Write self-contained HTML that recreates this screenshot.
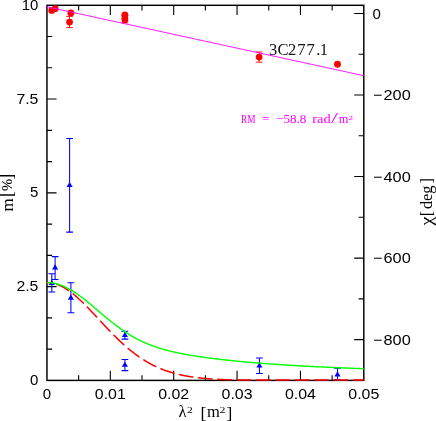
<!DOCTYPE html>
<html><head><meta charset="utf-8"><title>3C277.1</title>
<style>html,body{margin:0;padding:0;background:#fff}body{width:436px;height:421px;overflow:hidden}</style>
</head><body>
<svg width="436" height="421" viewBox="0 0 436 421" style="display:block;will-change:transform">
<rect width="436" height="421" fill="#fff"/>
<path d="M78.64 380.4v-5.2M78.64 5.3v5.2M110.32 380.4v-9.6M110.32 5.3v9.6M142.00 380.4v-5.2M142.00 5.3v5.2M173.69 380.4v-9.6M173.69 5.3v9.6M205.38 380.4v-5.2M205.38 5.3v5.2M237.06 380.4v-9.6M237.06 5.3v9.6M268.75 380.4v-5.2M268.75 5.3v5.2M300.43 380.4v-9.6M300.43 5.3v9.6M332.12 380.4v-5.2M332.12 5.3v5.2M46.95 349.14h5.2M46.95 317.88h5.2M46.95 286.62h9.6M46.95 255.37h5.2M46.95 224.11h5.2M46.95 192.85h9.6M46.95 161.59h5.2M46.95 130.33h5.2M46.95 99.07h9.6M46.95 67.82h5.2M46.95 36.56h5.2M363.8 13.45h-9.6M363.8 54.23h-5.2M363.8 95.00h-9.6M363.8 135.77h-5.2M363.8 176.54h-9.6M363.8 217.31h-5.2M363.8 258.08h-9.6M363.8 298.86h-5.2M363.8 339.63h-9.6" stroke="#000" stroke-width="1.1" fill="none"/>
<rect x="46.95" y="5.3" width="316.85" height="375.09999999999997" fill="none" stroke="#000" stroke-width="1.45"/>
<path d="M69.6 138.4V232.1M66.19999999999999 138.4h6.8M66.19999999999999 232.1h6.8" stroke="#0000ff" stroke-width="1.05" fill="none"/>
<path d="M69.6 181.9L72.69999999999999 187.0H66.5Z" fill="#0000ff"/>
<path d="M55.1 256.6V279.4M51.7 256.6h6.8M51.7 279.4h6.8" stroke="#0000ff" stroke-width="1.05" fill="none"/>
<path d="M55.1 264.29999999999995L58.2 269.4H52.0Z" fill="#0000ff"/>
<path d="M51.8 273.75V291.9M48.4 273.75h6.8M48.4 291.9h6.8" stroke="#0000ff" stroke-width="1.05" fill="none"/>
<path d="M51.8 279.9L54.9 285.0H48.699999999999996Z" fill="#0000ff"/>
<path d="M70.9 282.7V312.8M67.5 282.7h6.8M67.5 312.8h6.8" stroke="#0000ff" stroke-width="1.05" fill="none"/>
<path d="M70.9 294.59999999999997L74.0 299.7H67.80000000000001Z" fill="#0000ff"/>
<path d="M124.9 331.3V339.1M121.5 331.3h6.8M121.5 339.1h6.8" stroke="#0000ff" stroke-width="1.05" fill="none"/>
<path d="M124.9 332.0L128.0 337.1H121.80000000000001Z" fill="#0000ff"/>
<path d="M124.9 359.5V370.6M121.5 359.5h6.8M121.5 370.6h6.8" stroke="#0000ff" stroke-width="1.05" fill="none"/>
<path d="M124.9 361.7L128.0 366.8H121.80000000000001Z" fill="#0000ff"/>
<path d="M259.4 357.9V373.4M255.99999999999997 357.9h6.8M255.99999999999997 373.4h6.8" stroke="#0000ff" stroke-width="1.05" fill="none"/>
<path d="M259.4 362.5L262.5 367.6H256.29999999999995Z" fill="#0000ff"/>
<path d="M337.5 368.3V379.7M334.1 368.3h6.8M334.1 379.7h6.8" stroke="#0000ff" stroke-width="1.05" fill="none"/>
<path d="M337.5 371.29999999999995L340.6 376.4H334.4Z" fill="#0000ff"/>
<path d="M46.95 282.57 L47.74 282.59 L48.54 282.62 L49.33 282.68 L50.13 282.76 L50.92 282.86 L51.71 282.98 L52.51 283.13 L53.30 283.30 L54.10 283.49 L54.89 283.70 L55.69 283.93 L56.48 284.19 L57.27 284.46 L58.07 284.76 L58.86 285.08 L59.66 285.41 L60.45 285.77 L61.24 286.15 L62.04 286.55 L62.83 286.96 L63.63 287.40 L64.42 287.85 L65.21 288.32 L66.01 288.81 L66.80 289.31 L67.60 289.84 L68.39 290.38 L69.19 290.93 L69.98 291.50 L70.77 292.09 L71.57 292.69 L72.36 293.31 L73.16 293.94 L73.95 294.59 L74.74 295.25 L75.54 295.92 L76.33 296.60 L77.13 297.30 L77.92 298.01 L78.71 298.72 L79.51 299.45 L80.30 300.19 L81.10 300.94 L81.89 301.70 L82.68 302.47 L83.48 303.25 L84.27 304.03 L85.07 304.82 L85.86 305.62 L86.66 306.43 L87.45 307.24 L88.24 308.06 L89.04 308.89 L89.83 309.72 L90.63 310.55 L91.42 311.39 L92.21 312.23 L93.01 313.07 L93.80 313.92 L94.60 314.77 L95.39 315.62 L96.18 316.48 L96.98 317.33 L97.77 318.19 L98.57 319.04 L99.36 319.90 L100.16 320.76 L100.95 321.61 L101.74 322.47 L102.54 323.32 L103.33 324.17 L104.13 325.02 L104.92 325.87 L105.71 326.72 L106.51 327.56 L107.30 328.40 L108.10 329.23 L108.89 330.06 L109.68 330.89 L110.48 331.71 L111.27 332.53 L112.07 333.35 L112.86 334.16 L113.66 334.96 L114.45 335.76 L115.24 336.55 L116.04 337.33 L116.83 338.11 L117.63 338.89 L118.42 339.65 L119.21 340.41 L120.01 341.17 L120.80 341.91 L121.60 342.65 L122.39 343.38 L123.18 344.11 L123.98 344.82 L124.77 345.53 L125.57 346.23 L126.36 346.92 L127.16 347.61 L127.95 348.28 L128.74 348.95 L129.54 349.61 L130.33 350.26 L131.13 350.90 L131.92 351.54 L132.71 352.16 L133.51 352.78 L134.30 353.39 L135.10 353.99 L135.89 354.58 L136.68 355.16 L137.48 355.73 L138.27 356.29 L139.07 356.85 L139.86 357.39 L140.66 357.93 L141.45 358.46 L142.24 358.98 L143.04 359.49 L143.83 359.99 L144.63 360.49 L145.42 360.97 L146.21 361.45 L147.01 361.92 L147.80 362.38 L148.60 362.83 L149.39 363.27 L150.18 363.70 L150.98 364.13 L151.77 364.55 L152.57 364.96 L153.36 365.36 L154.15 365.75 L154.95 366.14 L155.74 366.51 L156.54 366.88 L157.33 367.25 L158.13 367.60 L158.92 367.95 L159.71 368.29 L160.51 368.62 L161.30 368.94 L162.10 369.26 L162.89 369.57 L163.68 369.88 L164.48 370.17 L165.27 370.46 L166.07 370.75 L166.86 371.02 L167.65 371.29 L168.45 371.56 L169.24 371.81 L170.04 372.07 L170.83 372.31 L171.63 372.55 L172.42 372.78 L173.21 373.01 L174.01 373.23 L174.80 373.45 L175.60 373.66 L176.39 373.87 L177.18 374.07 L177.98 374.26 L178.77 374.45 L179.57 374.63 L180.36 374.81 L181.15 374.99 L181.95 375.16 L182.74 375.33 L183.54 375.49 L184.33 375.64 L185.13 375.80 L185.92 375.94 L186.71 376.09 L187.51 376.23 L188.30 376.37 L189.10 376.50 L189.89 376.63 L190.68 376.75 L191.48 376.87 L192.27 376.99 L193.07 377.10 L193.86 377.21 L194.65 377.32 L195.45 377.43 L196.24 377.53 L197.04 377.63 L197.83 377.72 L198.63 377.81 L199.42 377.90 L200.21 377.99 L201.01 378.07 L201.80 378.16 L202.60 378.23 L203.39 378.31 L204.18 378.38 L204.98 378.46 L205.77 378.53 L206.57 378.59 L207.36 378.66 L208.15 378.72 L208.95 378.78 L209.74 378.84 L210.54 378.90 L211.33 378.95 L212.12 379.01 L212.92 379.06 L213.71 379.11 L214.51 379.15 L215.30 379.20 L216.10 379.25 L216.89 379.29 L217.68 379.33 L218.48 379.37 L219.27 379.41 L220.07 379.45 L220.86 379.48 L221.65 379.52 L222.45 379.55 L223.24 379.59 L224.04 379.62 L224.83 379.65 L225.62 379.68 L226.42 379.71 L227.21 379.73 L228.01 379.76 L228.80 379.78 L229.60 379.81 L230.39 379.83 L231.18 379.85 L231.98 379.88 L232.77 379.90 L233.57 379.92 L234.36 379.94 L235.15 379.96 L235.95 379.97 L236.74 379.99 L237.54 380.00 L238.33 380.00 L239.12 380.00 L239.92 380.00 L240.71 380.00 L241.51 380.00 L242.30 380.00 L243.10 380.00 L243.89 380.00 L244.68 380.00 L245.48 380.00 L246.27 380.00 L247.07 380.00 L247.86 380.00 L248.65 380.00 L249.45 380.00 L250.24 380.00 L251.04 380.00 L251.83 380.00 L252.62 380.00 L253.42 380.00 L254.21 380.00 L255.01 380.00 L255.80 380.00 L256.60 380.00 L257.39 380.00 L258.18 380.00 L258.98 380.00 L259.77 380.00 L260.57 380.00 L261.36 380.00 L262.15 380.00 L262.95 380.00 L263.74 380.00 L264.54 380.00 L265.33 380.00 L266.12 380.00 L266.92 380.00 L267.71 380.00 L268.51 380.00 L269.30 380.00 L270.09 380.00 L270.89 380.00 L271.68 380.00 L272.48 380.00 L273.27 380.00 L274.07 380.00 L274.86 380.00 L275.65 380.00 L276.45 380.00 L277.24 380.00 L278.04 380.00 L278.83 380.00 L279.62 380.00 L280.42 380.00 L281.21 380.00 L282.01 380.00 L282.80 380.00 L283.59 380.00 L284.39 380.00 L285.18 380.00 L285.98 380.00 L286.77 380.00 L287.57 380.00 L288.36 380.00 L289.15 380.00 L289.95 380.00 L290.74 380.00 L291.54 380.00 L292.33 380.00 L293.12 380.00 L293.92 380.00 L294.71 380.00 L295.51 380.00 L296.30 380.00 L297.09 380.00 L297.89 380.00 L298.68 380.00 L299.48 380.00 L300.27 380.00 L301.07 380.00 L301.86 380.00 L302.65 380.00 L303.45 380.00 L304.24 380.00 L305.04 380.00 L305.83 380.00 L306.62 380.00 L307.42 380.00 L308.21 380.00 L309.01 380.00 L309.80 380.00 L310.59 380.00 L311.39 380.00 L312.18 380.00 L312.98 380.00 L313.77 380.00 L314.57 380.00 L315.36 380.00 L316.15 380.00 L316.95 380.00 L317.74 380.00 L318.54 380.00 L319.33 380.00 L320.12 380.00 L320.92 380.00 L321.71 380.00 L322.51 380.00 L323.30 380.00 L324.09 380.00 L324.89 380.00 L325.68 380.00 L326.48 380.00 L327.27 380.00 L328.07 380.00 L328.86 380.00 L329.65 380.00 L330.45 380.00 L331.24 380.00 L332.04 380.00 L332.83 380.00 L333.62 380.00 L334.42 380.00 L335.21 380.00 L336.01 380.00 L336.80 380.00 L337.59 380.00 L338.39 380.00 L339.18 380.00 L339.98 380.00 L340.77 380.00 L341.56 380.00 L342.36 380.00 L343.15 380.00 L343.95 380.00 L344.74 380.00 L345.54 380.00 L346.33 380.00 L347.12 380.00 L347.92 380.00 L348.71 380.00 L349.51 380.00 L350.30 380.00 L351.09 380.00 L351.89 380.00 L352.68 380.00 L353.48 380.00 L354.27 380.00 L355.06 380.00 L355.86 380.00 L356.65 380.00 L357.45 380.00 L358.24 380.00 L359.04 380.00 L359.83 380.00 L360.62 380.00 L361.42 380.00 L362.21 380.00 L363.01 380.00 L363.80 380.00" stroke="#ff0000" stroke-width="1.5" fill="none" stroke-dasharray="13.65 5.72" stroke-dashoffset="9.6" stroke-linecap="round" stroke-linejoin="round"/>
<path d="M46.95 282.57 L47.74 282.58 L48.54 282.61 L49.33 282.65 L50.13 282.71 L50.92 282.79 L51.71 282.88 L52.51 282.99 L53.30 283.12 L54.10 283.27 L54.89 283.43 L55.69 283.61 L56.48 283.80 L57.27 284.01 L58.07 284.24 L58.86 284.48 L59.66 284.74 L60.45 285.02 L61.24 285.31 L62.04 285.61 L62.83 285.94 L63.63 286.27 L64.42 286.62 L65.21 286.99 L66.01 287.36 L66.80 287.76 L67.60 288.16 L68.39 288.58 L69.19 289.02 L69.98 289.46 L70.77 289.92 L71.57 290.39 L72.36 290.87 L73.16 291.36 L73.95 291.87 L74.74 292.38 L75.54 292.91 L76.33 293.45 L77.13 293.99 L77.92 294.55 L78.71 295.11 L79.51 295.69 L80.30 296.27 L81.10 296.86 L81.89 297.46 L82.68 298.06 L83.48 298.67 L84.27 299.29 L85.07 299.92 L85.86 300.55 L86.66 301.18 L87.45 301.82 L88.24 302.47 L89.04 303.12 L89.83 303.78 L90.63 304.43 L91.42 305.09 L92.21 305.76 L93.01 306.43 L93.80 307.09 L94.60 307.77 L95.39 308.44 L96.18 309.11 L96.98 309.78 L97.77 310.46 L98.57 311.13 L99.36 311.81 L100.16 312.48 L100.95 313.16 L101.74 313.83 L102.54 314.50 L103.33 315.17 L104.13 315.83 L104.92 316.50 L105.71 317.16 L106.51 317.82 L107.30 318.47 L108.10 319.12 L108.89 319.77 L109.68 320.42 L110.48 321.06 L111.27 321.69 L112.07 322.32 L112.86 322.95 L113.66 323.57 L114.45 324.18 L115.24 324.79 L116.04 325.40 L116.83 326.00 L117.63 326.59 L118.42 327.18 L119.21 327.76 L120.01 328.33 L120.80 328.90 L121.60 329.46 L122.39 330.01 L123.18 330.56 L123.98 331.10 L124.77 331.63 L125.57 332.16 L126.36 332.68 L127.16 333.19 L127.95 333.69 L128.74 334.19 L129.54 334.68 L130.33 335.16 L131.13 335.64 L131.92 336.11 L132.71 336.57 L133.51 337.02 L134.30 337.46 L135.10 337.90 L135.89 338.33 L136.68 338.76 L137.48 339.17 L138.27 339.58 L139.07 339.99 L139.86 340.38 L140.66 340.77 L141.45 341.15 L142.24 341.53 L143.04 341.89 L143.83 342.25 L144.63 342.61 L145.42 342.96 L146.21 343.30 L147.01 343.63 L147.80 343.96 L148.60 344.28 L149.39 344.60 L150.18 344.91 L150.98 345.22 L151.77 345.52 L152.57 345.81 L153.36 346.10 L154.15 346.38 L154.95 346.66 L155.74 346.93 L156.54 347.20 L157.33 347.46 L158.13 347.71 L158.92 347.97 L159.71 348.21 L160.51 348.46 L161.30 348.70 L162.10 348.93 L162.89 349.16 L163.68 349.39 L164.48 349.61 L165.27 349.83 L166.07 350.04 L166.86 350.25 L167.65 350.46 L168.45 350.66 L169.24 350.86 L170.04 351.06 L170.83 351.25 L171.63 351.44 L172.42 351.63 L173.21 351.81 L174.01 352.00 L174.80 352.17 L175.60 352.35 L176.39 352.52 L177.18 352.69 L177.98 352.86 L178.77 353.03 L179.57 353.19 L180.36 353.35 L181.15 353.51 L181.95 353.66 L182.74 353.82 L183.54 353.97 L184.33 354.12 L185.13 354.27 L185.92 354.41 L186.71 354.56 L187.51 354.70 L188.30 354.84 L189.10 354.98 L189.89 355.12 L190.68 355.25 L191.48 355.39 L192.27 355.52 L193.07 355.65 L193.86 355.78 L194.65 355.90 L195.45 356.03 L196.24 356.15 L197.04 356.28 L197.83 356.40 L198.63 356.52 L199.42 356.64 L200.21 356.76 L201.01 356.87 L201.80 356.99 L202.60 357.10 L203.39 357.22 L204.18 357.33 L204.98 357.44 L205.77 357.55 L206.57 357.66 L207.36 357.77 L208.15 357.87 L208.95 357.98 L209.74 358.08 L210.54 358.19 L211.33 358.29 L212.12 358.39 L212.92 358.49 L213.71 358.59 L214.51 358.69 L215.30 358.79 L216.10 358.88 L216.89 358.98 L217.68 359.07 L218.48 359.17 L219.27 359.26 L220.07 359.36 L220.86 359.45 L221.65 359.54 L222.45 359.63 L223.24 359.72 L224.04 359.81 L224.83 359.90 L225.62 359.98 L226.42 360.07 L227.21 360.15 L228.01 360.24 L228.80 360.32 L229.60 360.41 L230.39 360.49 L231.18 360.57 L231.98 360.66 L232.77 360.74 L233.57 360.82 L234.36 360.90 L235.15 360.98 L235.95 361.05 L236.74 361.13 L237.54 361.21 L238.33 361.29 L239.12 361.36 L239.92 361.44 L240.71 361.51 L241.51 361.59 L242.30 361.66 L243.10 361.73 L243.89 361.81 L244.68 361.88 L245.48 361.95 L246.27 362.02 L247.07 362.09 L247.86 362.16 L248.65 362.23 L249.45 362.30 L250.24 362.37 L251.04 362.43 L251.83 362.50 L252.62 362.57 L253.42 362.63 L254.21 362.70 L255.01 362.77 L255.80 362.83 L256.60 362.90 L257.39 362.96 L258.18 363.02 L258.98 363.09 L259.77 363.15 L260.57 363.21 L261.36 363.27 L262.15 363.33 L262.95 363.39 L263.74 363.45 L264.54 363.51 L265.33 363.57 L266.12 363.63 L266.92 363.69 L267.71 363.75 L268.51 363.81 L269.30 363.87 L270.09 363.92 L270.89 363.98 L271.68 364.04 L272.48 364.09 L273.27 364.15 L274.07 364.20 L274.86 364.26 L275.65 364.31 L276.45 364.37 L277.24 364.42 L278.04 364.47 L278.83 364.53 L279.62 364.58 L280.42 364.63 L281.21 364.68 L282.01 364.74 L282.80 364.79 L283.59 364.84 L284.39 364.89 L285.18 364.94 L285.98 364.99 L286.77 365.04 L287.57 365.09 L288.36 365.14 L289.15 365.19 L289.95 365.24 L290.74 365.28 L291.54 365.33 L292.33 365.38 L293.12 365.43 L293.92 365.47 L294.71 365.52 L295.51 365.57 L296.30 365.61 L297.09 365.66 L297.89 365.70 L298.68 365.75 L299.48 365.79 L300.27 365.84 L301.07 365.88 L301.86 365.93 L302.65 365.97 L303.45 366.02 L304.24 366.06 L305.04 366.10 L305.83 366.15 L306.62 366.19 L307.42 366.23 L308.21 366.27 L309.01 366.31 L309.80 366.36 L310.59 366.40 L311.39 366.44 L312.18 366.48 L312.98 366.52 L313.77 366.56 L314.57 366.60 L315.36 366.64 L316.15 366.68 L316.95 366.72 L317.74 366.76 L318.54 366.80 L319.33 366.84 L320.12 366.88 L320.92 366.92 L321.71 366.95 L322.51 366.99 L323.30 367.03 L324.09 367.07 L324.89 367.10 L325.68 367.14 L326.48 367.18 L327.27 367.22 L328.07 367.25 L328.86 367.29 L329.65 367.32 L330.45 367.36 L331.24 367.40 L332.04 367.43 L332.83 367.47 L333.62 367.50 L334.42 367.54 L335.21 367.57 L336.01 367.61 L336.80 367.64 L337.59 367.68 L338.39 367.71 L339.18 367.74 L339.98 367.78 L340.77 367.81 L341.56 367.84 L342.36 367.88 L343.15 367.91 L343.95 367.94 L344.74 367.98 L345.54 368.01 L346.33 368.04 L347.12 368.07 L347.92 368.10 L348.71 368.14 L349.51 368.17 L350.30 368.20 L351.09 368.23 L351.89 368.26 L352.68 368.29 L353.48 368.32 L354.27 368.36 L355.06 368.39 L355.86 368.42 L356.65 368.45 L357.45 368.48 L358.24 368.51 L359.04 368.54 L359.83 368.57 L360.62 368.60 L361.42 368.62 L362.21 368.65 L363.01 368.68 L363.80 368.71" stroke="#00ff00" stroke-width="1.4" fill="none" stroke-linejoin="round"/>
<circle cx="51.7" cy="10.4" r="3.4" fill="#ff0000"/>
<circle cx="55.2" cy="8.7" r="3.4" fill="#ff0000"/>
<circle cx="70.85" cy="12.9" r="3.4" fill="#ff0000"/>
<path d="M69.55 16.4V27.6M66.14999999999999 16.4h6.8M66.14999999999999 27.6h6.8" stroke="#ff0000" stroke-width="0.9" fill="none"/>
<circle cx="69.55" cy="22.1" r="3.4" fill="#ff0000"/>
<circle cx="124.9" cy="15.0" r="3.4" fill="#ff0000"/>
<path d="M124.9 15.5V22.9M121.5 15.5h6.8M121.5 22.9h6.8" stroke="#ff0000" stroke-width="0.9" fill="none"/>
<circle cx="124.9" cy="19.7" r="3.4" fill="#ff0000"/>
<path d="M259.1 52.0V62.2M255.70000000000002 52.0h6.8M255.70000000000002 62.2h6.8" stroke="#ff0000" stroke-width="0.9" fill="none"/>
<circle cx="259.1" cy="57.1" r="3.4" fill="#ff0000"/>
<circle cx="337.5" cy="64.25" r="3.4" fill="#ff0000"/>
<rect x="121.7" y="15" width="6.4" height="4.7" fill="#ff0000"/>
<line x1="46.95" y1="6.8" x2="363.8" y2="75.7" stroke="#ff00ff" stroke-width="0.9"/>
<text x="38.4" y="9.800000000000011" font-family="'Liberation Sans', sans-serif" font-size="15" text-anchor="end" fill="#000" textLength="16.6" lengthAdjust="spacingAndGlyphs">10</text>
<text x="38.4" y="103.57499999999999" font-family="'Liberation Sans', sans-serif" font-size="15" text-anchor="end" fill="#000" textLength="22" lengthAdjust="spacingAndGlyphs">7.5</text>
<text x="38.4" y="197.35" font-family="'Liberation Sans', sans-serif" font-size="15" text-anchor="end" fill="#000">5</text>
<text x="38.4" y="291.125" font-family="'Liberation Sans', sans-serif" font-size="15" text-anchor="end" fill="#000" textLength="22" lengthAdjust="spacingAndGlyphs">2.5</text>
<text x="38.4" y="384.9" font-family="'Liberation Sans', sans-serif" font-size="15" text-anchor="end" fill="#000">0</text>
<text x="46.95" y="398.6" font-family="'Liberation Sans', sans-serif" font-size="15" text-anchor="middle" fill="#000">0</text>
<text x="110.32" y="398.6" font-family="'Liberation Sans', sans-serif" font-size="15" text-anchor="middle" fill="#000" textLength="31" lengthAdjust="spacingAndGlyphs">0.01</text>
<text x="173.69" y="398.6" font-family="'Liberation Sans', sans-serif" font-size="15" text-anchor="middle" fill="#000" textLength="31" lengthAdjust="spacingAndGlyphs">0.02</text>
<text x="237.06" y="398.6" font-family="'Liberation Sans', sans-serif" font-size="15" text-anchor="middle" fill="#000" textLength="31" lengthAdjust="spacingAndGlyphs">0.03</text>
<text x="300.43" y="398.6" font-family="'Liberation Sans', sans-serif" font-size="15" text-anchor="middle" fill="#000" textLength="31" lengthAdjust="spacingAndGlyphs">0.04</text>
<text x="363.8" y="398.6" font-family="'Liberation Sans', sans-serif" font-size="15" text-anchor="middle" fill="#000" textLength="31" lengthAdjust="spacingAndGlyphs">0.05</text>
<text x="372.6" y="18.654347826086955" font-family="'Liberation Sans', sans-serif" font-size="15" text-anchor="start" fill="#000">0</text>
<text x="373.2" y="100.19782608695651" font-family="'Liberation Sans', sans-serif" font-size="15" text-anchor="start" fill="#000" textLength="9.2" lengthAdjust="spacingAndGlyphs">−</text>
<text x="383.5" y="100.19782608695651" font-family="'Liberation Sans', sans-serif" font-size="15" text-anchor="start" fill="#000" textLength="27.2" lengthAdjust="spacingAndGlyphs">200</text>
<text x="373.2" y="181.74130434782606" font-family="'Liberation Sans', sans-serif" font-size="15" text-anchor="start" fill="#000" textLength="9.2" lengthAdjust="spacingAndGlyphs">−</text>
<text x="383.5" y="181.74130434782606" font-family="'Liberation Sans', sans-serif" font-size="15" text-anchor="start" fill="#000" textLength="27.2" lengthAdjust="spacingAndGlyphs">400</text>
<text x="373.2" y="263.2847826086956" font-family="'Liberation Sans', sans-serif" font-size="15" text-anchor="start" fill="#000" textLength="9.2" lengthAdjust="spacingAndGlyphs">−</text>
<text x="383.5" y="263.2847826086956" font-family="'Liberation Sans', sans-serif" font-size="15" text-anchor="start" fill="#000" textLength="27.2" lengthAdjust="spacingAndGlyphs">600</text>
<text x="373.2" y="344.82826086956516" font-family="'Liberation Sans', sans-serif" font-size="15" text-anchor="start" fill="#000" textLength="9.2" lengthAdjust="spacingAndGlyphs">−</text>
<text x="383.5" y="344.82826086956516" font-family="'Liberation Sans', sans-serif" font-size="15" text-anchor="start" fill="#000" textLength="27.2" lengthAdjust="spacingAndGlyphs">800</text>
<text x="178.6" y="417.3" font-family="'Liberation Serif', sans-serif" font-size="16.5" text-anchor="start" fill="#000">λ</text>
<text x="187.0" y="413.0" font-family="'Liberation Serif', sans-serif" font-size="9" text-anchor="start" fill="#000" textLength="5.8" lengthAdjust="spacingAndGlyphs">2</text>
<text x="200.6" y="419.0" font-family="'Liberation Serif', sans-serif" font-size="17.5" text-anchor="start" fill="#000">[</text>
<text x="206.9" y="417.3" font-family="'Liberation Serif', sans-serif" font-size="16.5" text-anchor="start" fill="#000">m</text>
<text x="219.4" y="413.0" font-family="'Liberation Serif', sans-serif" font-size="9" text-anchor="start" fill="#000" textLength="5.9" lengthAdjust="spacingAndGlyphs">2</text>
<text x="226.6" y="419.0" font-family="'Liberation Serif', sans-serif" font-size="17.5" text-anchor="start" fill="#000">]</text>
<text transform="translate(12.9,211.5) rotate(-90)" font-family="'Liberation Serif', serif" font-size="17" text-anchor="start">m</text>
<text transform="translate(12.0,196.9) rotate(-90)" font-family="'Liberation Serif', serif" font-size="18" text-anchor="start">[</text>
<text transform="translate(12.2,191.1) rotate(-90)" font-family="'Liberation Serif', serif" font-size="14.6" text-anchor="start">%</text>
<text transform="translate(12.0,179.7) rotate(-90)" font-family="'Liberation Serif', serif" font-size="18" text-anchor="start">]</text>
<text transform="translate(432.3,225.5) rotate(-90)" font-family="'Liberation Serif', serif" font-size="17.5" text-anchor="start" textLength="8.8" lengthAdjust="spacingAndGlyphs">χ</text>
<text transform="translate(432.3,216.2) rotate(-90)" font-family="'Liberation Serif', serif" font-size="16.4" text-anchor="start">[</text>
<text transform="translate(432.3,209.1) rotate(-90)" font-family="'Liberation Serif', serif" font-size="16.4" text-anchor="start">deg</text>
<text transform="translate(432.3,183.4) rotate(-90)" font-family="'Liberation Serif', serif" font-size="16.4" text-anchor="start">]</text>
<text x="269.0 277.6 288.0 297.3 306.6 316.3 319.8" y="55.2" font-family="'Liberation Serif', serif" font-size="16.5" fill="#111">3C277.1</text>
<text x="241.1" y="122.9" font-family="'Liberation Serif', sans-serif" font-size="12.3" text-anchor="start" fill="#ff00ff" textLength="14.6" lengthAdjust="spacingAndGlyphs">RM</text>
<text x="262.5" y="122.9" font-family="'Liberation Serif', sans-serif" font-size="12.3" text-anchor="start" fill="#ff00ff">=</text>
<text x="276.2" y="122.9" font-family="'Liberation Serif', sans-serif" font-size="12.3" text-anchor="start" fill="#ff00ff" textLength="30.0" lengthAdjust="spacingAndGlyphs">−58.8</text>
<text x="312.3" y="122.9" font-family="'Liberation Serif', sans-serif" font-size="12.3" text-anchor="start" fill="#ff00ff" textLength="18.4" lengthAdjust="spacingAndGlyphs">rad</text>
<text x="330.9" y="123.3" font-family="'Liberation Serif', sans-serif" font-size="14.2" text-anchor="start" fill="#ff00ff" textLength="7.0" lengthAdjust="spacingAndGlyphs">/</text>
<text x="338.8" y="122.9" font-family="'Liberation Serif', sans-serif" font-size="12.3" text-anchor="start" fill="#ff00ff" textLength="9.6" lengthAdjust="spacingAndGlyphs">m</text>
<text x="348.6" y="119.9" font-family="'Liberation Serif', sans-serif" font-size="6.4" text-anchor="start" fill="#ff00ff" textLength="4.6" lengthAdjust="spacingAndGlyphs">2</text>
</svg>
</body></html>
